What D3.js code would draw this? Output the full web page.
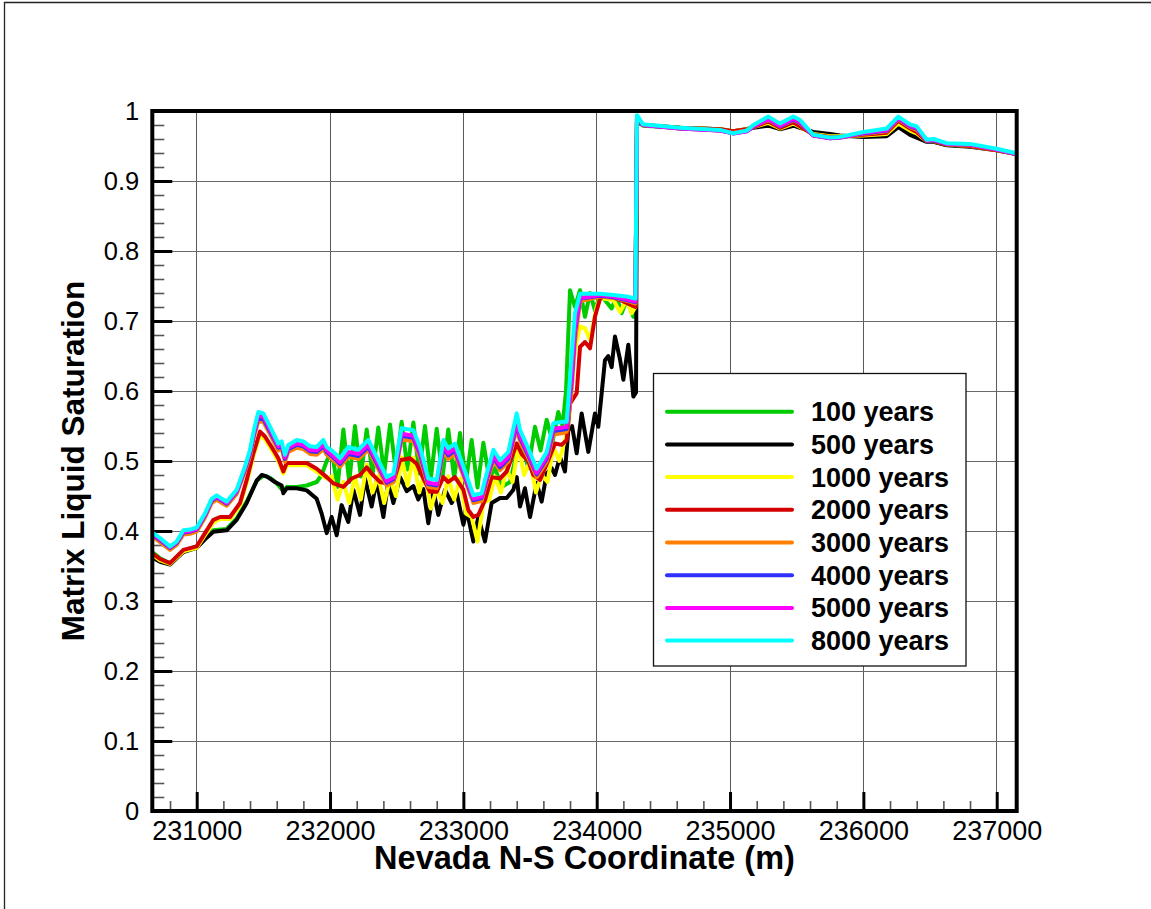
<!DOCTYPE html>
<html>
<head>
<meta charset="utf-8">
<script src="https://cdn.jsdelivr.net/npm/d3@7"></script>
<style>
  body { margin: 0; background: #fff; }
  svg { display: block; }
  text { font-family: "Liberation Sans", Arial, sans-serif; }
</style>
</head>
<body>
<svg id="chart" width="1151" height="909"></svg>
<script>
// Matrix liquid saturation along the Nevada N-S coordinate, one profile per simulated time.

const seriesNames = ["100 years", "500 years", "1000 years", "2000 years",
                     "3000 years", "4000 years", "5000 years", "8000 years"];
const seriesColors = ["#00cc00", "#000000", "#ffff00", "#d40000",
                      "#ff8000", "#3030ff", "#ff00ff", "#00ffff"];

const xTicks = [231000, 232000, 233000, 234000, 235000, 236000, 237000];
const yTicks = [0, 0.1, 0.2, 0.3, 0.4, 0.5, 0.6, 0.7, 0.8, 0.9, 1];
const xDomain = [230667, 237150];
const yDomain = [0, 1];

// [coordinate (m), saturation]
const sat100 = [[230667,0.370],[230725,0.361],[230800,0.354],[230900,0.372],[231000,0.378],[231062,0.390],[231125,0.401],[231225,0.403],[231300,0.418],[231375,0.442],[231450,0.472],[231500,0.479],[231550,0.476],[231600,0.468],[231650,0.457],[231675,0.463],[231750,0.463],[231825,0.465],[231900,0.470],[231937,0.480],[231975,0.500],
  [232012,0.515],[232056,0.463],[232100,0.545],[232144,0.470],[232187,0.550],[232231,0.478],[232275,0.545],[232319,0.480],[232362,0.548],[232406,0.482],[232450,0.552],[232494,0.485],[232537,0.556],[232581,0.488],[232625,0.555],[232669,0.482],[232712,0.550],[232756,0.475],[232800,0.546],[232844,0.478],[232887,0.545],[232931,0.475],[232975,0.540],[233019,0.470],[233062,0.530],[233106,0.462],[233150,0.526],[233194,0.475],[233237,0.490],[233287,0.463],[233350,0.470],[233400,0.511],[233437,0.525],[233487,0.490],[233537,0.549],[233579,0.515],[233625,0.559],[233669,0.528],[233712,0.570],[233744,0.550],[233770,0.600],[233800,0.744],[233837,0.720],[233875,0.744],[233912,0.706],[233950,0.740],[233987,0.715],[234025,0.738],[234070,0.728],[234112,0.718],[234150,0.735],[234187,0.711],[234225,0.730],[234275,0.706],[234291,0.720],
  [234302,0.985],[234347,0.979],[234625,0.976],[234925,0.974],[235022,0.970],[235125,0.974],[235175,0.977],[235287,0.981],[235375,0.976],[235475,0.981],[235525,0.978],[235625,0.969],[235750,0.966],[235825,0.964],[236000,0.965],[236175,0.968],[236262,0.978],[236350,0.972],[236400,0.966],[236475,0.957],[236525,0.957],[236625,0.952],[236800,0.950],[237000,0.944],[237140,0.939]];

const sat500 = [[230667,0.362],[230725,0.356],[230800,0.352],[230900,0.370],[231000,0.376],[231062,0.388],[231125,0.399],[231225,0.401],[231300,0.416],[231375,0.440],[231450,0.472],[231487,0.480],[231525,0.478],[231587,0.470],[231637,0.465],[231650,0.454],[231675,0.461],[231750,0.461],[231825,0.458],[231900,0.446],[231937,0.425],[231975,0.397],
  [232012,0.420],[232050,0.394],[232087,0.437],[232137,0.413],[232175,0.459],[232225,0.423],[232262,0.475],[232312,0.435],[232350,0.472],[232400,0.420],[232437,0.471],[232475,0.440],[232525,0.477],[232575,0.457],[232625,0.464],[232662,0.445],[232700,0.460],[232737,0.411],[232775,0.459],[232812,0.423],[232862,0.459],[232912,0.440],[232950,0.454],[233000,0.409],[233025,0.430],[233075,0.385],[233112,0.420],[233162,0.385],[233212,0.440],[233275,0.447],[233325,0.447],[233375,0.459],[233400,0.477],[233425,0.435],[233462,0.461],[233500,0.420],[233550,0.469],[233587,0.442],[233625,0.482],[233662,0.490],[233687,0.480],[233725,0.506],[233762,0.485],[233787,0.544],[233815,0.550],[233850,0.511],[233887,0.568],[233937,0.513],[233987,0.568],[234012,0.549],[234062,0.644],[234087,0.650],[234112,0.634],[234137,0.678],[234175,0.645],[234200,0.616],[234237,0.666],[234275,0.592],[234295,0.598],
  [234302,0.985],[234347,0.980],[234625,0.976],[234925,0.974],[235022,0.971],[235125,0.974],[235175,0.976],[235287,0.979],[235375,0.974],[235475,0.979],[235525,0.976],[235625,0.970],[235750,0.967],[235825,0.965],[236000,0.963],[236175,0.964],[236262,0.977],[236350,0.966],[236400,0.962],[236475,0.956],[236525,0.956],[236625,0.951],[236800,0.949],[237000,0.944],[237140,0.939]];

const sat1000 = [[230667,0.366],[230725,0.358],[230800,0.353],[230900,0.371],[231000,0.376],[231062,0.394],[231125,0.412],[231175,0.417],[231250,0.417],[231325,0.437],[231375,0.469],[231425,0.507],[231475,0.537],[231512,0.531],[231562,0.516],[231612,0.500],[231650,0.482],[231675,0.494],[231750,0.494],[231825,0.494],[231900,0.485],[231975,0.475],
  [232012,0.478],[232056,0.445],[232100,0.470],[232144,0.440],[232187,0.478],[232231,0.445],[232275,0.495],[232319,0.455],[232362,0.478],[232406,0.440],[232450,0.475],[232494,0.450],[232537,0.505],[232581,0.465],[232625,0.505],[232669,0.455],[232712,0.485],[232756,0.432],[232800,0.460],[232844,0.440],[232887,0.478],[232931,0.445],[232975,0.475],[233019,0.425],[233062,0.420],[233106,0.385],[233150,0.440],[233194,0.445],[233237,0.478],[233281,0.455],[233325,0.488],[233369,0.470],[233412,0.522],[233456,0.480],[233500,0.500],[233544,0.455],[233587,0.480],[233631,0.470],[233675,0.520],[233719,0.500],[233762,0.530],
  [233787,0.550],[233812,0.616],[233837,0.660],[233875,0.692],[233912,0.690],[233950,0.673],[234000,0.720],[234025,0.733],[234125,0.730],[234175,0.713],[234225,0.730],[234262,0.711],[234290,0.720],
  [234302,0.988],[234347,0.980],[234625,0.976],[234925,0.974],[235022,0.971],[235125,0.974],[235175,0.977],[235287,0.983],[235375,0.975],[235475,0.982],[235525,0.977],[235625,0.967],[235750,0.964],[235825,0.964],[236000,0.965],[236175,0.967],[236262,0.982],[236350,0.972],[236400,0.968],[236475,0.957],[236525,0.957],[236625,0.952],[236800,0.950],[237000,0.944],[237140,0.939]];

const sat2000 = [[230667,0.368],[230725,0.360],[230800,0.354],[230900,0.373],[231000,0.378],[231062,0.397],[231125,0.416],[231175,0.420],[231250,0.420],[231325,0.440],[231375,0.473],[231425,0.511],[231475,0.542],[231512,0.535],[231562,0.520],[231612,0.504],[231650,0.485],[231675,0.497],[231750,0.497],[231825,0.497],[231900,0.489],[231975,0.477],[232025,0.468],[232100,0.463],[232162,0.475],[232225,0.480],[232275,0.491],[232312,0.482],[232375,0.470],[232425,0.468],[232475,0.470],[232525,0.501],[232600,0.504],[232650,0.496],[232700,0.475],[232750,0.456],[232800,0.456],[232850,0.477],[232887,0.470],[232937,0.477],[233000,0.459],[233037,0.430],[233075,0.420],[233112,0.423],[233162,0.444],[233212,0.477],[233275,0.475],[233325,0.485],[233400,0.525],[233437,0.510],[233487,0.500],[233525,0.480],[233575,0.473],[233637,0.501],[233687,0.525],[233737,0.523],[233775,0.530],
  [233800,0.582],[233850,0.597],[233875,0.663],[233912,0.670],[233950,0.661],[233987,0.706],[234025,0.732],[234075,0.737],[234175,0.730],[234290,0.720],
  [234302,0.990],[234347,0.980],[234625,0.976],[234925,0.974],[235022,0.971],[235125,0.974],[235175,0.977],[235287,0.985],[235375,0.976],[235475,0.984],[235525,0.978],[235625,0.966],[235750,0.963],[235825,0.963],[236000,0.966],[236175,0.969],[236262,0.986],[236350,0.975],[236400,0.970],[236475,0.957],[236525,0.957],[236625,0.952],[236800,0.950],[237000,0.944],[237140,0.939]];

const sat3000 = [[230667,0.392],[230725,0.384],[230800,0.373],[230850,0.380],[230900,0.395],[230950,0.396],[231000,0.399],[231062,0.419],[231112,0.440],[231150,0.445],[231190,0.440],[231225,0.436],[231300,0.453],[231362,0.485],[231400,0.507],[231430,0.535],[231462,0.557],[231500,0.556],[231550,0.538],[231612,0.515],[231637,0.518],[231662,0.499],[231687,0.513],[231750,0.519],[231800,0.517],[231850,0.510],[231900,0.509],[231950,0.517],[231975,0.509],[232025,0.501],[232075,0.492],[232137,0.506],[232212,0.503],[232287,0.516],[232350,0.493],[232425,0.465],[232475,0.470],[232537,0.531],[232625,0.528],[232675,0.505],[232737,0.463],[232800,0.461],[232850,0.514],[232887,0.503],[232937,0.510],[233000,0.479],[233075,0.440],[233137,0.443],[233162,0.461],[233225,0.500],[233275,0.487],[233337,0.499],[233400,0.546],[233425,0.528],[233487,0.504],[233550,0.477],[233625,0.499],[233675,0.538],[233750,0.540],[233775,0.542],[233812,0.600],[233837,0.670],[233875,0.728],[234025,0.735],[234125,0.733],[234225,0.729],[234290,0.725],
  [234302,0.990],[234347,0.980],[234625,0.975],[234925,0.972],[235022,0.969],[235125,0.972],[235175,0.978],[235287,0.987],[235375,0.978],[235475,0.987],[235525,0.982],[235625,0.965],[235750,0.962],[235825,0.962],[236000,0.967],[236175,0.971],[236262,0.988],[236350,0.977],[236400,0.973],[236475,0.958],[236525,0.958],[236625,0.953],[236800,0.951],[237000,0.945],[237140,0.939]];

const sat4000 = [[230667,0.395],[230725,0.387],[230800,0.376],[230850,0.383],[230900,0.398],[230950,0.399],[231000,0.402],[231062,0.422],[231112,0.443],[231150,0.448],[231190,0.443],[231225,0.439],[231300,0.456],[231362,0.488],[231400,0.511],[231430,0.539],[231462,0.562],[231500,0.560],[231550,0.542],[231612,0.519],[231637,0.522],[231662,0.503],[231687,0.517],[231750,0.523],[231800,0.521],[231850,0.514],[231900,0.513],[231950,0.521],[231975,0.513],[232025,0.505],[232075,0.496],[232137,0.510],[232212,0.507],[232287,0.520],[232350,0.497],[232425,0.469],[232475,0.474],[232537,0.536],[232625,0.533],[232675,0.510],[232737,0.467],[232800,0.465],[232850,0.519],[232887,0.508],[232937,0.515],[233000,0.483],[233075,0.444],[233137,0.447],[233162,0.465],[233225,0.505],[233275,0.491],[233337,0.503],[233400,0.552],[233425,0.533],[233487,0.508],[233550,0.481],[233625,0.503],[233675,0.543],[233750,0.545],[233775,0.546],[233812,0.615],[233837,0.685],[233875,0.732],[234025,0.736],[234125,0.734],[234225,0.730],[234290,0.727],
  [234302,0.991],[234347,0.980],[234625,0.975],[234925,0.972],[235022,0.968],[235125,0.971],[235175,0.978],[235287,0.988],[235375,0.978],[235475,0.988],[235525,0.983],[235625,0.965],[235750,0.961],[235825,0.962],[236000,0.968],[236175,0.972],[236262,0.989],[236350,0.978],[236400,0.975],[236475,0.958],[236525,0.958],[236625,0.953],[236800,0.952],[237000,0.945],[237140,0.939]];

const sat5000 = [[230667,0.396],[230725,0.388],[230800,0.377],[230850,0.384],[230900,0.399],[230950,0.400],[231000,0.403],[231062,0.423],[231112,0.444],[231150,0.449],[231190,0.444],[231225,0.440],[231300,0.457],[231362,0.490],[231400,0.513],[231430,0.541],[231462,0.565],[231500,0.563],[231550,0.545],[231612,0.521],[231637,0.524],[231662,0.505],[231687,0.519],[231750,0.525],[231800,0.523],[231850,0.516],[231900,0.515],[231950,0.524],[231975,0.515],[232025,0.507],[232075,0.498],[232137,0.513],[232212,0.510],[232287,0.523],[232350,0.500],[232425,0.471],[232475,0.476],[232537,0.539],[232625,0.536],[232675,0.513],[232737,0.469],[232800,0.467],[232850,0.522],[232887,0.511],[232937,0.518],[233000,0.485],[233075,0.446],[233137,0.449],[233162,0.467],[233225,0.508],[233275,0.494],[233337,0.506],[233400,0.556],[233425,0.536],[233487,0.511],[233550,0.483],[233625,0.506],[233675,0.546],[233750,0.548],[233775,0.549],[233812,0.620],[233837,0.690],[233875,0.733],[234025,0.737],[234125,0.735],[234225,0.731],[234290,0.728],
  [234302,0.992],[234347,0.980],[234625,0.975],[234925,0.972],[235022,0.968],[235125,0.971],[235175,0.978],[235287,0.989],[235375,0.979],[235475,0.989],[235525,0.984],[235625,0.965],[235750,0.961],[235825,0.962],[236000,0.969],[236175,0.973],[236262,0.990],[236350,0.979],[236400,0.976],[236475,0.958],[236525,0.959],[236625,0.953],[236800,0.952],[237000,0.945],[237140,0.939]];

const sat8000 = [[230667,0.398],[230725,0.390],[230800,0.378],[230850,0.385],[230900,0.401],[230950,0.402],[231000,0.405],[231062,0.425],[231112,0.446],[231150,0.451],[231190,0.446],[231225,0.442],[231300,0.459],[231362,0.492],[231400,0.516],[231430,0.545],[231462,0.570],[231500,0.568],[231550,0.549],[231612,0.525],[231637,0.528],[231662,0.509],[231687,0.523],[231750,0.530],[231800,0.528],[231850,0.521],[231900,0.520],[231950,0.530],[231975,0.520],[232025,0.513],[232075,0.504],[232137,0.520],[232212,0.516],[232287,0.530],[232350,0.506],[232425,0.477],[232475,0.482],[232537,0.547],[232625,0.544],[232675,0.520],[232737,0.475],[232800,0.473],[232850,0.530],[232887,0.518],[232937,0.525],[233000,0.492],[233075,0.451],[233137,0.454],[233162,0.473],[233225,0.516],[233275,0.501],[233337,0.513],[233400,0.568],[233425,0.544],[233487,0.518],[233550,0.489],[233625,0.513],[233675,0.554],[233750,0.556],[233775,0.556],[233812,0.649],[233837,0.711],[233875,0.739],[234025,0.739],[234125,0.737],[234225,0.735],[234290,0.732],
  [234302,0.994],[234347,0.981],[234625,0.976],[234925,0.973],[235022,0.968],[235125,0.972],[235175,0.980],[235287,0.992],[235375,0.982],[235475,0.992],[235525,0.987],[235625,0.966],[235750,0.962],[235825,0.963],[236000,0.970],[236175,0.975],[236262,0.992],[236350,0.981],[236400,0.978],[236475,0.959],[236525,0.960],[236625,0.954],[236800,0.953],[237000,0.946],[237140,0.940]];

const seriesData = [sat100, sat500, sat1000, sat2000, sat3000, sat4000, sat5000, sat8000];

// ---------------------------------------------------------------------------
const svg = d3.select("#chart");
const W = 1151, H = 909;
const plot = { left: 152.3, right: 1016.7, top: 111, bottom: 811 };

const x = d3.scaleLinear().domain(xDomain).range([plot.left, plot.right]);
const y = d3.scaleLinear().domain(yDomain).range([plot.bottom, plot.top]);

// page border (top and left edges)
svg.append("path")
  .attr("d", `M4.5,${H} L4.5,2.5 L${W},2.5`)
  .attr("fill", "none").attr("stroke", "#222").attr("stroke-width", 1.3);

// grid
const grid = svg.append("g").attr("shape-rendering", "crispEdges");
grid.selectAll("line.vx").data(xTicks).join("line")
  .attr("x1", d => x(d)).attr("x2", d => x(d))
  .attr("y1", plot.top).attr("y2", plot.bottom)
  .attr("stroke", "#5a5a5a").attr("stroke-width", 1);
grid.selectAll("line.hy").data(yTicks.slice(1, -1)).join("line")
  .attr("x1", plot.left).attr("x2", plot.right)
  .attr("y1", d => y(d)).attr("y2", d => y(d))
  .attr("stroke", "#6a6a6a").attr("stroke-width", 1);

// minor ticks
const xMinor = d3.range(230800, 237150, 200).filter(v => v % 1000 !== 0);
const yMinor = d3.range(0.02, 1, 0.02).filter(v => Math.abs(v * 10 - Math.round(v * 10)) > 1e-6);

const xMinorAxis = svg.append("g")
  .attr("transform", `translate(0,${plot.bottom})`)
  .call(d3.axisBottom(x).tickValues(xMinor).tickSize(-10).tickFormat(""));
xMinorAxis.select(".domain").remove();
xMinorAxis.selectAll(".tick line").attr("stroke", "#555").attr("stroke-width", 1.6);

const yMinorAxis = svg.append("g")
  .attr("transform", `translate(${plot.left},0)`)
  .call(d3.axisLeft(y).tickValues(yMinor).tickSize(-12).tickFormat(""));
yMinorAxis.select(".domain").remove();
yMinorAxis.selectAll(".tick line").attr("stroke", "#555").attr("stroke-width", 1.6);

// major ticks + labels
const xAxis = svg.append("g")
  .attr("transform", `translate(0,${plot.bottom})`)
  .call(d3.axisBottom(x).tickValues(xTicks).tickSize(-19).tickPadding(10).tickFormat(d3.format("d")));
xAxis.select(".domain").remove();
xAxis.selectAll(".tick line").attr("stroke", "#000").attr("stroke-width", 3);
xAxis.selectAll(".tick text")
  .attr("fill", "#000").style("font-size", "27px")
  .style("font-family", "'Liberation Sans', Arial, sans-serif");

const yAxis = svg.append("g")
  .attr("transform", `translate(${plot.left},0)`)
  .call(d3.axisLeft(y).tickValues(yTicks).tickSize(-20).tickPadding(13).tickFormat(d3.format("~g")));
yAxis.select(".domain").remove();
yAxis.selectAll(".tick line").attr("stroke", "#000").attr("stroke-width", 3);
yAxis.selectAll(".tick text")
  .attr("fill", "#000").style("font-size", "25.5px")
  .style("font-family", "'Liberation Sans', Arial, sans-serif");

// data lines
svg.append("defs").append("clipPath").attr("id", "plotClip")
  .append("rect")
  .attr("x", plot.left).attr("y", plot.top - 4)
  .attr("width", plot.right - plot.left).attr("height", plot.bottom - plot.top + 4);

const line = d3.line().x(d => x(d[0])).y(d => y(d[1]));
const lines = svg.append("g").attr("clip-path", "url(#plotClip)");
seriesData.forEach((s, i) => {
  lines.append("path")
    .attr("d", line(s))
    .attr("fill", "none")
    .attr("stroke", seriesColors[i])
    .attr("stroke-width", 4)
    .attr("stroke-linejoin", "round")
    .attr("stroke-linecap", "round");
});

// plot frame
svg.append("rect")
  .attr("x", plot.left).attr("y", plot.top)
  .attr("width", plot.right - plot.left).attr("height", plot.bottom - plot.top)
  .attr("fill", "none").attr("stroke", "#000").attr("stroke-width", 4);

// axis titles
svg.append("text")
  .attr("x", (plot.left + plot.right) / 2).attr("y", 869)
  .attr("text-anchor", "middle")
  .style("font-size", "32.5px").style("font-weight", "bold")
  .text("Nevada N-S Coordinate (m)");

svg.append("text")
  .attr("transform", `translate(84,${(plot.top + plot.bottom) / 2}) rotate(-90)`)
  .attr("text-anchor", "middle")
  .style("font-size", "31.5px").style("font-weight", "bold")
  .text("Matrix Liquid Saturation");

// legend
const legend = svg.append("g");
legend.append("rect")
  .attr("x", 653.5).attr("y", 373.5).attr("width", 312.5).attr("height", 292.5)
  .attr("fill", "#fff").attr("stroke", "#111").attr("stroke-width", 1.3);
seriesNames.forEach((name, i) => {
  const ly = 411.7 + i * 32.7;
  legend.append("line")
    .attr("x1", 667).attr("x2", 792).attr("y1", ly).attr("y2", ly)
    .attr("stroke", seriesColors[i]).attr("stroke-width", 4)
    .attr("stroke-linecap", "round");
  legend.append("text")
    .attr("x", 811).attr("y", ly + 9.5)
    .style("font-size", "27px").style("font-weight", "bold")
    .text(name);
});
</script>
</body>
</html>
